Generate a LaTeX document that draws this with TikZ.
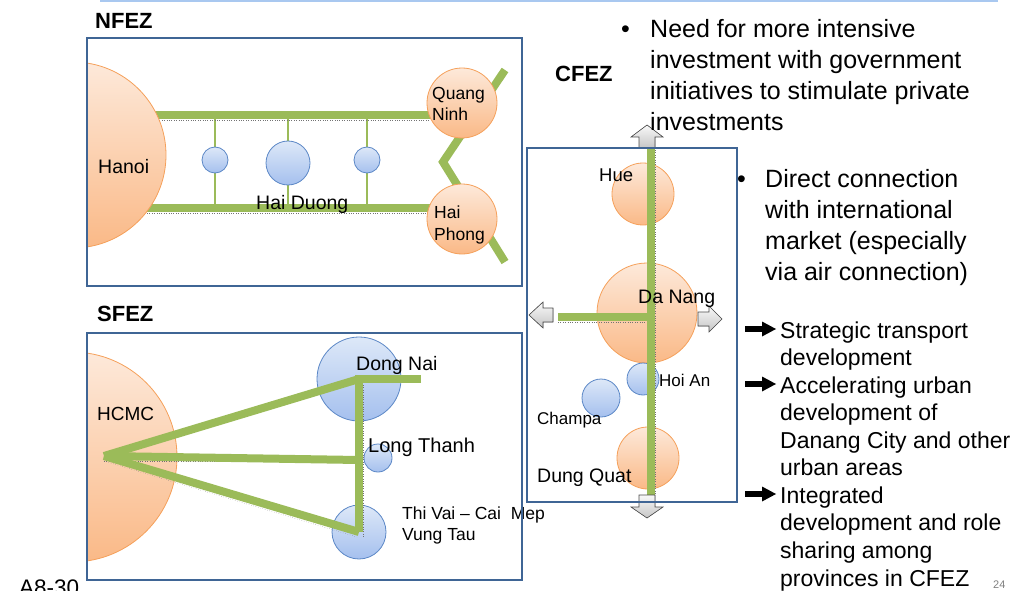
\documentclass[tikz,border=0pt]{standalone}
\usepackage{fontspec}
\setmainfont{Liberation Sans}
\pgfdeclarelayer{roads}
\pgfsetlayers{roads,main}

\definecolor{frame}{HTML}{3F6595}
\definecolor{road}{HTML}{9BBB59}
\definecolor{orgline}{HTML}{F5A05A}
\definecolor{orgtop}{HTML}{FDE9DA}
\definecolor{orgbot}{HTML}{FAB987}
\definecolor{blueline}{HTML}{5B87C6}
\definecolor{bluetop}{HTML}{DDE8F8}
\definecolor{bluebot}{HTML}{A5C0EE}
\definecolor{rulecol}{HTML}{A9C8F0}

% multi-line labels are placed by the baseline of their last line
\tikzset{
  txt/.style={anchor=base west, inner sep=0pt, align=left},
  zonetitle/.style={txt, font=\fontsize{22}{26}\selectfont\bfseries},
  zonebox/.style={draw=frame, line width=2pt},
  city/.style={circle, inner sep=0pt, minimum size=#1, draw=orgline, line width=0.8pt,
    top color=orgtop, bottom color=orgbot},
  town/.style={circle, inner sep=0pt, minimum size=#1, draw=blueline, line width=0.8pt,
    top color=bluetop, bottom color=bluebot},
  mainroad/.style={draw=road, line width=8pt},
  sideroad/.style={draw=road, line width=2.5pt},
  guide/.style={draw=black!55, dotted, line width=0.4pt},
  gate/.style={draw=gray!60!black, line width=0.6pt, top color=gray!5, bottom color=gray!45},
  pointer/.pic={
    \fill (0,-2.8) rectangle (19,2.8);
    \fill (17,-7.5) -- (31,0) -- (17,7.5) -- cycle;
  },
}

\begin{document}
\begin{tikzpicture}[x=1pt,y=-1pt]
\useasboundingbox (0,0) rectangle (1033,591);

% header rule
\draw[rulecol, line width=1.8pt] (100,1) -- (998,1);

% ---------------- NFEZ ----------------
\node[zonetitle] (nfez) at (95,29) {NFEZ};
\begin{scope}
  \clip (87,38) rectangle (522,286);
  \node[city=186pt] (hanoi) at (73,155) {};
\end{scope}
\node[city=70pt] (qn) at (462,103) {};
\node[city=70pt] (hp) at (462,219) {};
\node[town=26pt] (t1) at (215,160) {};
\node[town=44pt] (hd) at (288,163) {};
\node[town=26pt] (t2) at (367,160) {};
\coordinate (n-top) at (150,115);
\coordinate (n-bot) at (145,208);
\coordinate (n-ne) at (505,70);
\coordinate (n-knee) at (443,162);
\coordinate (n-se) at (505,262);
\begin{pgfonlayer}{roads}
  \draw[mainroad] (n-top) -- (n-top -| qn.center);
  \draw[mainroad] (n-bot) -- (n-bot -| hp.center);
  \draw[mainroad] (n-ne) -- (n-knee) -- (n-se);
  \foreach \t in {t1,hd,t2} \draw[sideroad] (\t |- n-top) -- (\t |- n-bot);
  \draw[guide] (157,120) -- (430,120);
  \draw[guide] (147,213) -- (430,213);
\end{pgfonlayer}
\node[txt, font=\fontsize{19.5}{23}\selectfont] (l-hanoi) at (98,173) {Hanoi};
\node[txt, font=\fontsize{17.5}{21}\selectfont] (l-qn) at (432,121) {Quang\\Ninh};
\node[txt, font=\fontsize{17.5}{22}\selectfont] (l-hp) at (434,240) {Hai\\Phong};
\node[txt, font=\fontsize{19.5}{23}\selectfont] (l-hd) at (256,209) {Hai Duong};
\draw[zonebox] (87,38) rectangle (522,286);

% ---------------- SFEZ ----------------
\node[zonetitle] (sfez) at (97,321) {SFEZ};
\begin{scope}
  \clip (87,333) rectangle (522,580);
  \node[city=210pt] (hcmc) at (72,457) {};
\end{scope}
\node[town=84pt] (dn) at (359,379) {};
\node[town=28pt] (lt) at (378,458) {};
\node[town=54pt] (tv) at (359,532) {};
\coordinate (s-hub) at (104,456);
\coordinate (s-mid) at (359,460);
\coordinate (s-east) at (421,379);
\draw[guide] (104,461) -- (355,461);
\draw[guide] (104,461) -- (357,537);
\draw[guide] (363,385) -- (363,537);
\draw[mainroad] (s-hub) -- (dn.center);
\draw[mainroad] (s-hub) -- (s-mid);
\draw[mainroad] (s-hub) -- (tv.center);
\draw[mainroad] (s-east) -- (dn.center) -- (tv.center);
\node[txt, font=\fontsize{19}{23}\selectfont] (l-hcmc) at (97,420) {HCMC};
\node[txt, font=\fontsize{19.5}{23}\selectfont] (l-dn) at (356,370) {Dong Nai};
\node[txt, font=\fontsize{20}{23}\selectfont] (l-lt) at (368,452) {Long Thanh};
\node[txt, font=\fontsize{17.5}{20.5}\selectfont] (l-tv) at (402,540) {Thi Vai -- Cai\ \ Mep\\Vung Tau};
\draw[zonebox] (87,333) rectangle (522,580);

% ---------------- CFEZ ----------------
\node[zonetitle] (cfez) at (555,82) {CFEZ};
\node[city=62pt] (hue) at (643,194) {};
\node[city=100pt] (dng) at (647,313) {};
\node[town=32pt] (hoian) at (643,379) {};
\node[town=38pt] (champa) at (601,398) {};
\node[city=62pt] (dq) at (648,458) {};
\coordinate (c-n) at (651,148);
\coordinate (c-s) at (651,495);
\coordinate (c-w) at (558,317);
\coordinate (c-j) at (651,317);
\draw[guide] (655.5,150) -- (655.5,495);
\draw[guide] (558,322) -- (651,322);
\draw[mainroad] (c-n) -- (c-s);
\draw[mainroad] (c-w) -- (c-j);
% outward gateways
\filldraw[gate] (647,125) -- (663,137) -- (655,137) -- (655,148) -- (639,148) -- (639,137) -- (631,137) -- cycle;
\filldraw[gate] (647,518) -- (663,507) -- (655,507) -- (655,495) -- (639,495) -- (639,507) -- (631,507) -- cycle;
\filldraw[gate] (529,315) -- (543,302) -- (543,308) -- (553,308) -- (553,322) -- (543,322) -- (543,328) -- cycle;
\filldraw[gate] (722,319) -- (709,306) -- (709,312) -- (698,312) -- (698,326) -- (709,326) -- (709,332) -- cycle;
\node[txt, font=\fontsize{18.5}{22}\selectfont] (l-hue) at (599,181) {Hue};
\node[txt, font=\fontsize{19.5}{23}\selectfont] (l-dng) at (638,303) {Da Nang};
\node[txt, font=\fontsize{17}{20}\selectfont] (l-hoian) at (659,386) {Hoi An};
\node[txt, font=\fontsize{17}{20}\selectfont] (l-champa) at (537,424) {Champa};
\node[txt, font=\fontsize{19.5}{23}\selectfont] (l-dq) at (537,482) {Dung Quat};
\draw[zonebox] (527,148) rectangle (737,502);

% ---------------- notes ----------------
\node[txt, font=\fontsize{25}{31}\selectfont] (b1) at (621,38) {\textbullet};
\node[txt, font=\fontsize{25}{31}\selectfont] (n1) at (650,131)
  {Need for more intensive\\investment with government\\initiatives to stimulate private\\investments};
\node[txt, font=\fontsize{25}{31}\selectfont] (b2) at (737,187) {\textbullet};
\node[txt, font=\fontsize{25}{31}\selectfont] (n2) at (765,280)
  {Direct connection\\with international\\market (especially\\via air connection)};
\pic at (745,329) {pointer};
\pic at (745,384) {pointer};
\pic at (745,494) {pointer};
\node[txt, font=\fontsize{23}{27.55}\selectfont] (n3) at (780,586)
  {Strategic transport\\development\\Accelerating urban\\development of\\Danang City and other\\urban areas\\Integrated\\development and role\\sharing among\\provinces in CFEZ};
\node[txt, font=\fontsize{11}{13}\selectfont, text=gray] (page) at (993,588) {24};
\node[txt, font=\fontsize{22.5}{26}\selectfont] (code) at (19,595) {A8-30};
\end{tikzpicture}
\end{document}
